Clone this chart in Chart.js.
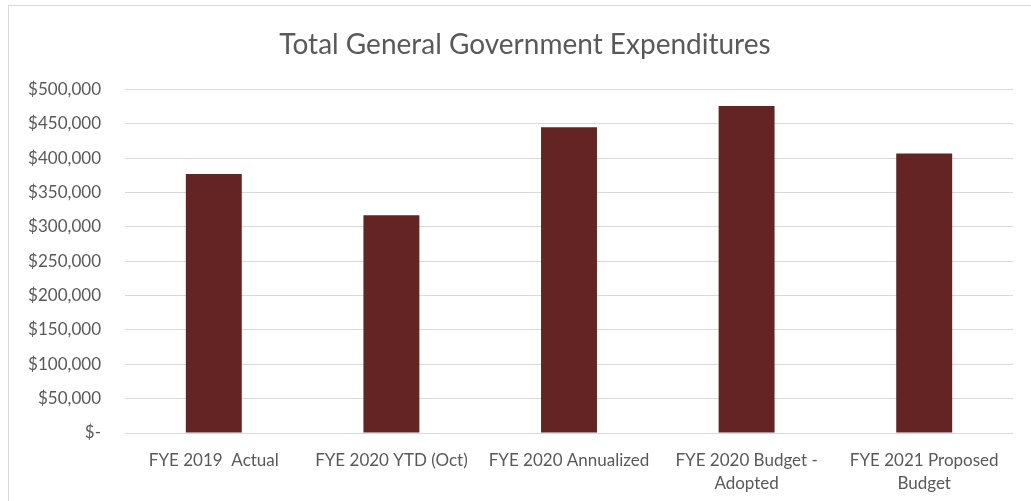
<!DOCTYPE html>
<html>
<head>
<meta charset="utf-8">
<script src="https://cdn.jsdelivr.net/npm/chart.js@4.4.0/dist/chart.umd.min.js"></script>
<style>
  html, body { margin: 0; padding: 0; background: #fff; overflow: hidden; }
  #box {
    position: absolute; left: 8px; top: 5px;
    width: 1032px; height: 495px;
    border-left: 1px solid #d9d9d9; border-top: 1px solid #d9d9d9;
  }
  #chart { display: block; }
</style>
</head>
<body>
<div id="box"><canvas id="chart" width="1032" height="495"></canvas></div>
<script>
// Datos del gráfico
const categories = [
  "FYE 2019  Actual",
  "FYE 2020 YTD (Oct)",
  "FYE 2020 Annualized",
  ["FYE 2020 Budget -", "Adopted"],
  ["FYE 2021 Proposed", "Budget"]
];
const expenditures = [377000, 317000, 445000, 476000, 407000];
const yTicks = [0, 50000, 100000, 150000, 200000, 250000, 300000, 350000, 400000, 450000, 500000];

const textColor = "#595959";
const fontFamily = "Lato, 'Open Sans', sans-serif";

// el título va centrado en todo el recuadro, no solo en la zona sin padding
const centerTitle = {
  id: "centerTitle",
  afterLayout(chart) {
    const t = chart.titleBlock;
    if (t) { t.left += 14; t.right += 14; }
  }
};

const ctx = document.getElementById("chart").getContext("2d");

new Chart(ctx, {
  type: "bar",
  data: {
    labels: categories,
    datasets: [{
      label: "Total General Government Expenditures",
      data: expenditures,
      backgroundColor: "#632423",
      borderWidth: 0,
      categoryPercentage: 1,
      barPercentage: 0.315
    }]
  },
  options: {
    responsive: false,
    animation: false,
    layout: {
      padding: { left: 0, right: 28, top: 0, bottom: 0 }
    },
    plugins: {
      legend: { display: false },
      tooltip: { enabled: false },
      title: {
        display: true,
        text: "Total General Government Expenditures",
        color: textColor,
        font: { family: fontFamily, size: 28, weight: "normal" },
        padding: { top: 22, bottom: 28 }
      }
    },
    scales: {
      x: {
        afterFit: (scale) => { scale.height = 68; },
        grid: { display: false, drawTicks: false },
        border: { display: false },
        ticks: {
          color: textColor,
          font: { family: fontFamily, size: 17, lineHeight: 1.35 },
          padding: 16,
          maxRotation: 0,
          autoSkip: false
        }
      },
      y: {
        min: 0,
        max: 500000,
        afterBuildTicks: (scale) => { scale.ticks = yTicks.map(v => ({ value: v })); },
        afterFit: (scale) => { scale.width = 116; },
        grid: { color: "#d9d9d9", lineWidth: 1, drawTicks: false },
        border: { display: false },
        ticks: {
          color: textColor,
          font: { family: fontFamily, size: 17 },
          padding: 24,
          callback: (v) => v === 0 ? "$-" : "$" + v.toLocaleString("en-US")
        }
      }
    }
  },
  plugins: [centerTitle]
});
</script>
</body>
</html>
